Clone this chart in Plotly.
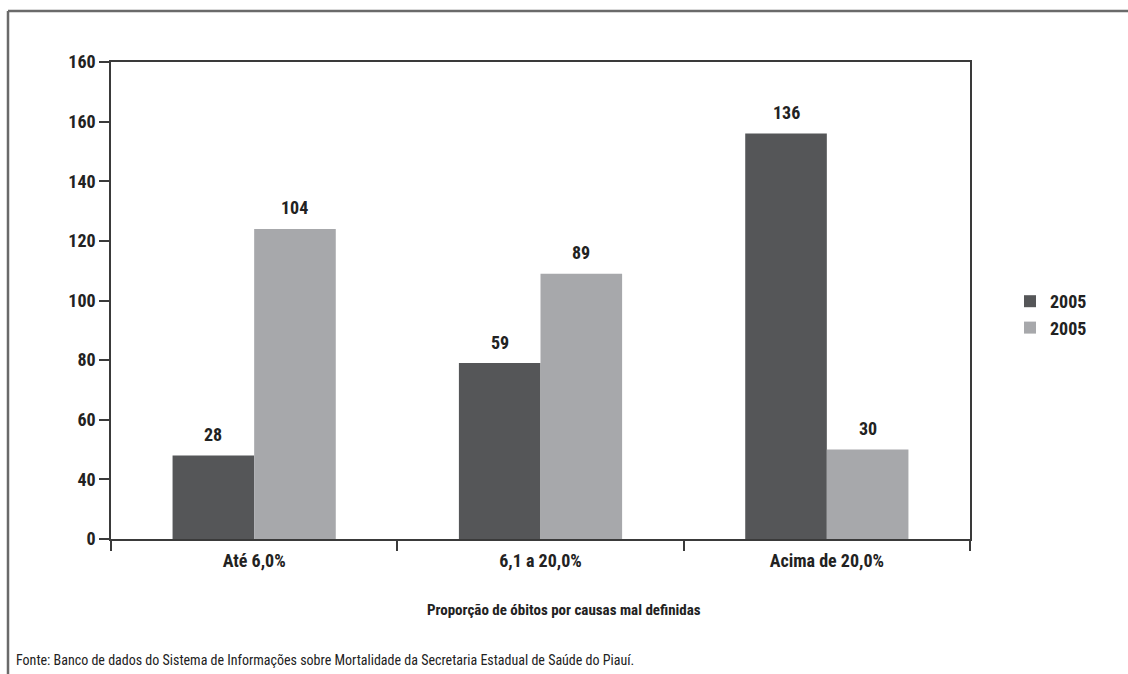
import plotly.graph_objects as go

categories = ["Até 6,0%", "6,1 a 20,0%", "Acima de 20,0%"]
series_names = ["2005", "2005"]
values_a = [28, 59, 136]
values_b = [104, 89, 30]
ytick_vals = [0, 20, 40, 60, 80, 100, 120, 140, 160]
ytick_text = ["0", "40", "60", "80", "100", "120", "140", "160", "160"]

FONT = "Roboto Condensed, Lato, Roboto, sans-serif"
DARK = "#555658"
LIGHT = "#a7a8ab"
LINE = "#3a3a3a"
TXT = "#222222"

W, H = 1128, 674
L, R, T, B = 111, 158, 62, 135
pw, ph = W - L - R, H - T - B
BARGAP = 0.43
bar_px = pw / len(categories) * (1 - BARGAP) / 2


def px_x(x):
    return (x - L) / pw


def px_y(y):
    return (H - B - y) / ph


fig = go.Figure()
annotations = []
for k, (name, vals, col) in enumerate([(series_names[0], values_a, DARK),
                                       (series_names[1], values_b, LIGHT)]):
    fig.add_trace(go.Bar(
        x=categories, y=vals, name=f"<b>{name}</b>",
        marker=dict(color=col, line=dict(width=0)),
    ))
    shift = (k - 0.5) * bar_px
    for c, v in zip(categories, vals):
        annotations.append(dict(
            x=c, y=v, xref="x", yref="y", text=f"<b>{v}</b>",
            showarrow=False, xshift=shift, yshift=21,
            xanchor="center", yanchor="middle",
            font=dict(family=FONT, size=18, color=TXT),
        ))

annotations += [
    dict(text="<b>Proporção de óbitos por causas mal definidas</b>",
         xref="paper", yref="paper", x=px_x(564), y=px_y(610),
         xanchor="center", yanchor="middle", showarrow=False,
         font=dict(family=FONT, size=15, color=TXT)),
    dict(text="Fonte: Banco de dados do Sistema de Informações sobre Mortalidade da Secretaria Estadual de Saúde do Piauí.",
         xref="paper", yref="paper", x=px_x(14), y=px_y(660),
         xanchor="left", yanchor="middle", showarrow=False,
         font=dict(family=FONT, size=14, color=TXT)),
]

fig.update_layout(
    width=W, height=H,
    margin=dict(l=L, r=R, t=T, b=B),
    paper_bgcolor="white", plot_bgcolor="white",
    barmode="group", bargap=BARGAP, bargroupgap=0,
    font=dict(family=FONT, size=16, color=TXT),
    showlegend=True,
    legend=dict(
        x=px_x(1010), y=px_y(283), xanchor="left", yanchor="top",
        font=dict(family=FONT, size=18, color=TXT),
        bgcolor="rgba(0,0,0,0)", tracegroupgap=0, itemwidth=30,
    ),
    xaxis=dict(
        type="category", range=[-0.5, 2.5],
        tickvals=categories, ticktext=[f"<b>{c}</b>" for c in categories],
        showline=True, linecolor=LINE, linewidth=1.5, mirror=True,
        ticks="outside", tickson="boundaries", ticklen=10, tickcolor=LINE, tickwidth=1.5,
        ticklabelstandoff=5,
        tickfont=dict(family=FONT, size=18, color=TXT),
        showgrid=False, zeroline=False,
    ),
    yaxis=dict(
        range=[0, 160],
        tickvals=ytick_vals, ticktext=[f"<b>{t}</b>" for t in ytick_text],
        showline=True, linecolor=LINE, linewidth=1.5, mirror=True,
        ticks="outside", ticklen=10, tickcolor=LINE, tickwidth=1.5,
        ticklabelstandoff=0,
        tickfont=dict(family=FONT, size=18, color=TXT),
        showgrid=False, zeroline=False,
    ),
    shapes=[
        dict(type="line", xref="paper", yref="paper",
             x0=px_x(8), x1=px_x(W + 5), y0=px_y(11), y1=px_y(11),
             line=dict(color="#6a6a6a", width=2.5)),
        dict(type="line", xref="paper", yref="paper",
             x0=px_x(8), x1=px_x(8), y0=px_y(11), y1=px_y(H + 5),
             line=dict(color="#6a6a6a", width=2.5)),
    ],
    annotations=annotations,
)

fig.write_html("out.html")
